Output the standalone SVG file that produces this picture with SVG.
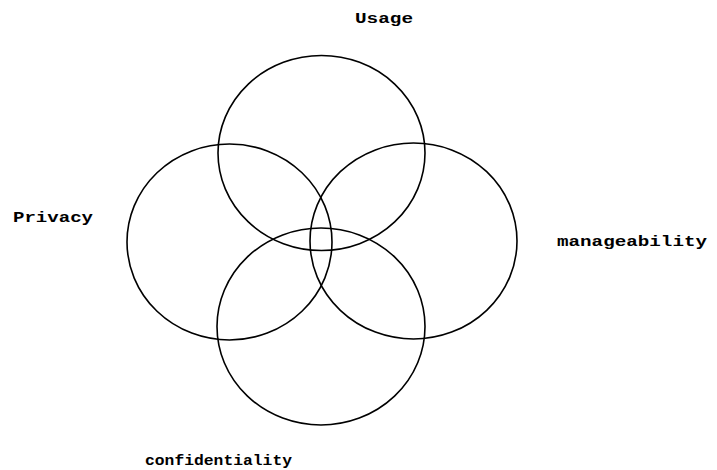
<svg xmlns="http://www.w3.org/2000/svg" width="717" height="470" viewBox="0 0 717 470">
<style>
.c{fill:none;stroke:#000;stroke-width:1.6}
.t{font-family:"Liberation Mono","DejaVu Sans Mono",monospace;font-weight:bold;font-size:14px;fill:#000}
</style>
<rect width="717" height="470" fill="#fff"/>
<g id="usage"><ellipse class="c" cx="321.5" cy="153" rx="103.5" ry="97.5"/><text class="t" x="355" y="23" textLength="58" lengthAdjust="spacingAndGlyphs">Usage</text></g>
<g id="privacy"><ellipse class="c" cx="229.5" cy="242" rx="102.5" ry="98"/><text class="t" x="13" y="222" textLength="80" lengthAdjust="spacingAndGlyphs">Privacy</text></g>
<g id="manageability"><ellipse class="c" cx="413.5" cy="241" rx="103.5" ry="98"/><text class="t" x="557" y="246" textLength="150" lengthAdjust="spacingAndGlyphs">manageability</text></g>
<g id="confidentiality"><ellipse class="c" cx="321" cy="326.5" rx="104" ry="98.5"/><text class="t" x="145" y="465" textLength="147" lengthAdjust="spacingAndGlyphs">confidentiality</text></g>
<g id="connectors"/>
</svg>
